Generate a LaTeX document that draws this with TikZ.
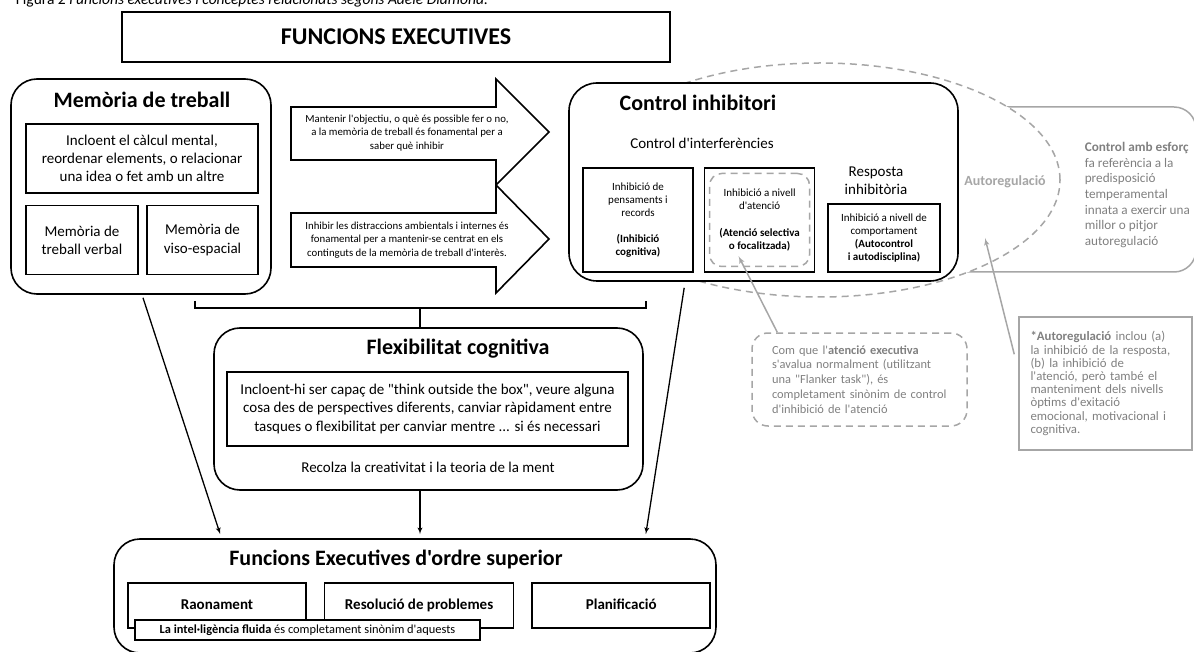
\documentclass[tikz,border=0pt]{standalone}
\usepackage{fontspec}
\setmainfont{Carlito}[Ligatures=TeXOff]
\usepackage{xcolor}
\colorlet{colorNote}{black!50}
\colorlet{colorNoteLine}{black!35}
\usepackage{tikz}
\usetikzlibrary{arrows, shapes.geometric, positioning}
\newcommand{\fsz}[2]{\fontsize{#1}{#2}\selectfont}

\begin{document}
\begin{tikzpicture}[x=1pt, y=-1pt, >=latex', line width=1.6pt,
  every node/.style={inner sep=0pt, align=center},
  frameBox/.style={draw, line width=1.6pt, fill=white},
  roundBox/.style={frameBox, rounded corners=26pt},
  boxTitle/.style={font=\fsz{22}{26}\bfseries},
  bodyText/.style={font=\fsz{15}{18.3}},
  smallText/.style={font=\fsz{11}{13}},
  arrowText/.style={font=\fsz{10.8}{13.4}},
  subBox/.style={frameBox, font=\fsz{15}{18}\bfseries, minimum height=45pt, text height=11pt, text depth=3pt},
  grayLine/.style={draw=colorNoteLine, line width=1.5pt},
  grayDash/.style={grayLine, dash pattern=on 7pt off 5pt},
  noteText/.style={text=colorNote, align=left}]
\useasboundingbox (0,0) rectangle (1194,652);
\node[anchor=base west, font=\fsz{15.5}{18}] (caption) at (15,4.5) {Figura 2 \textit{Funcions executives i conceptes relacionats segons Adele Diamond.}};
\node[frameBox, font=\fsz{24}{28}\bfseries, minimum width=548pt, minimum height=50pt] (fe) at (396,37) {FUNCIONS EXECUTIVES};

\node[roundBox, minimum width=260pt, minimum height=215pt] (mem) at (141,186.5) {};
\node[boxTitle] (memTitle) at (142,100) {Memòria de treball};
\node[frameBox, bodyText, minimum width=232pt, minimum height=69pt] (memCalc) at (142,158.5) {Incloent el càlcul mental,\\reordenar elements, o relacionar\\una idea o fet amb un altre};
\node[frameBox, bodyText, minimum width=112pt, minimum height=69pt, below right=11pt and 0pt of memCalc.south west] (memVerbal) {Memòria de\\treball verbal};
\node[frameBox, bodyText, minimum width=111pt, minimum height=69pt, below left=11pt and 0pt of memCalc.south east] (memViso) {Memòria de\\viso-espacial};

\draw[frameBox] (291,107) -- (496,107) -- (496,79) -- (549,132) -- (496,185) -- (496,160) -- (291,160) -- cycle;
\draw[frameBox] (291,213) -- (496,213) -- (496,185) -- (549,239) -- (496,293) -- (496,267) -- (291,267) -- cycle;
\node[arrowText] (arrGoal) at (407,133) {Mantenir l'objectiu, o què és possible fer o no,\\a la memòria de treball és fonamental per a\\saber què inhibir};
\node[arrowText] (arrDistr) at (407,240) {Inhibir les distraccions ambientals i internes és\\fonamental per a mantenir-se centrat en els\\continguts de la memòria de treball d'interès.};

\node[grayLine, rounded corners=22pt, minimum width=296pt, minimum height=165pt] (esf) at (1048,189.5) {};
\node[noteText, anchor=west, font=\fsz{13.2}{15.7}] (esfText) at (1084,195) {\textbf{Control amb esforç}\\fa referència a la\\predisposició\\temperamental\\innata a exercir una\\millor o pitjor\\autoregulació};
\node[ellipse, grayDash, fill=white, minimum width=480pt, minimum height=234pt] (autoreg) at (820,180) {};
\node[font=\fsz{14}{16}\bfseries, text=colorNoteLine] (autoregText) at (1005,182) {Autoregulació};

\node[roundBox, rounded corners=28pt, minimum width=389pt, minimum height=198pt] (ctrl) at (763.5,182) {};
\node[boxTitle] (ctrlTitle) at (698,103) {Control inhibitori};
\node[bodyText] (interf) at (702,143) {Control d'interferències};
\node[frameBox, smallText, minimum width=110pt, minimum height=104pt] (inhCog) at (638,220) {Inhibició de\\pensaments i\\records\\[13pt]\textbf{(Inhibició}\\\textbf{cognitiva)}};
\node[frameBox, smallText, minimum width=110pt, minimum height=104pt, right=10pt of inhCog] (inhAt) {Inhibició a nivell\\d'atenció\\[14pt]\textbf{(Atenció selectiva}\\\textbf{o focalitzada)}};
\node[grayDash, rounded corners=12pt, minimum width=100pt, minimum height=93pt] (inhAtDash) at (inhAt) {};
\node[bodyText] (resp) at (876,181) {Resposta\\inhibitòria};
\node[frameBox, smallText, minimum width=112pt, minimum height=68pt] (inhComp) at (884,238) {Inhibició a nivell de\\comportament\\\textbf{(Autocontrol}\\\textbf{i autodisciplina)}};

\draw (195,301) -- (195,308) -- (646,308) -- (646,301);
\coordinate (brk) at (420,308);

\node[roundBox, minimum width=429pt, minimum height=162pt] (flex) at (428.5,409) {};
\node[boxTitle] (flexTitle) at (458,349) {Flexibilitat cognitiva};
\node[frameBox, bodyText, minimum width=401pt, minimum height=74pt] (flexDef) at (427.5,409) {Incloent-hi ser capaç de "think outside the box", veure alguna\\cosa des de perspectives diferents, canviar ràpidament entre\\tasques o flexibilitat per canviar mentre ... si és necessari};
\node[bodyText] (flexCreat) at (428,467) {Recolza la creativitat i la teoria de la ment};
\draw (brk) -- (brk |- flex.north);

\node[roundBox, minimum width=602pt, minimum height=114pt] (sup) at (415,596) {};
\node[boxTitle] (supTitle) at (396,559) {Funcions Executives d'ordre superior};
\node[subBox, minimum width=178pt] (raon) at (217,605.5) {Raonament};
\node[subBox, minimum width=189pt, right=17pt of raon] (resol) {Resolució de problemes};
\node[subBox, minimum width=178pt, right=17pt of resol] (plan) {Planificació};
\node[frameBox, line width=1.4pt, font=\fsz{12.4}{14}, minimum width=345pt, minimum height=20pt] (fluid) at (307.5,630) {\textbf{La intel·ligència fluida} és completament sinònim d'aquests};

\draw[->, line width=1.3pt] ([xshift=2pt, yshift=-3pt]mem.south) -- ([xshift=107pt, yshift=4pt]sup.north west);
\draw[->, line width=1.3pt, shorten >=4pt] (flex.south -| brk) -- (sup.north -| brk);
\draw[->, line width=1.3pt] ([xshift=116pt, yshift=-6pt]ctrl.south west) -- ([xshift=-71pt, yshift=4pt]sup.north east);

\node[grayDash, rounded corners=16pt, noteText, font=\fsz{12.4}{14.9}, minimum width=215pt, minimum height=93pt, text width=175pt] (noteAt) at (859.5,379.5) {Com que l'\textbf{atenció executiva}\\s'avalua normalment (utilitzant\\una "Flanker task"), és\\completament sinònim de control\\d'inhibició de l'atenció};
\node[grayLine, noteText, font=\fsz{12.8}{13.2}, minimum width=173pt, minimum height=133pt, text width=150pt] (noteAutoreg) at (1105.5,383.5) {\textbf{*Autoregulació} inclou (a)\\la inhibició de la resposta,\\(b) la inhibició de\\l'atenció, però també el\\manteniment dels nivells\\òptims d'exitació\\emocional, motivacional i\\cognitiva.};
\draw[->, grayLine] ([xshift=26pt]noteAt.north west) -- ([xshift=-21pt, yshift=11pt]inhAtDash.south);
\draw[->, grayLine] ([xshift=-4pt, yshift=-38pt]noteAutoreg.north west) -- ([xshift=165pt, yshift=-58pt]autoreg.center);
\end{tikzpicture}
\end{document}
